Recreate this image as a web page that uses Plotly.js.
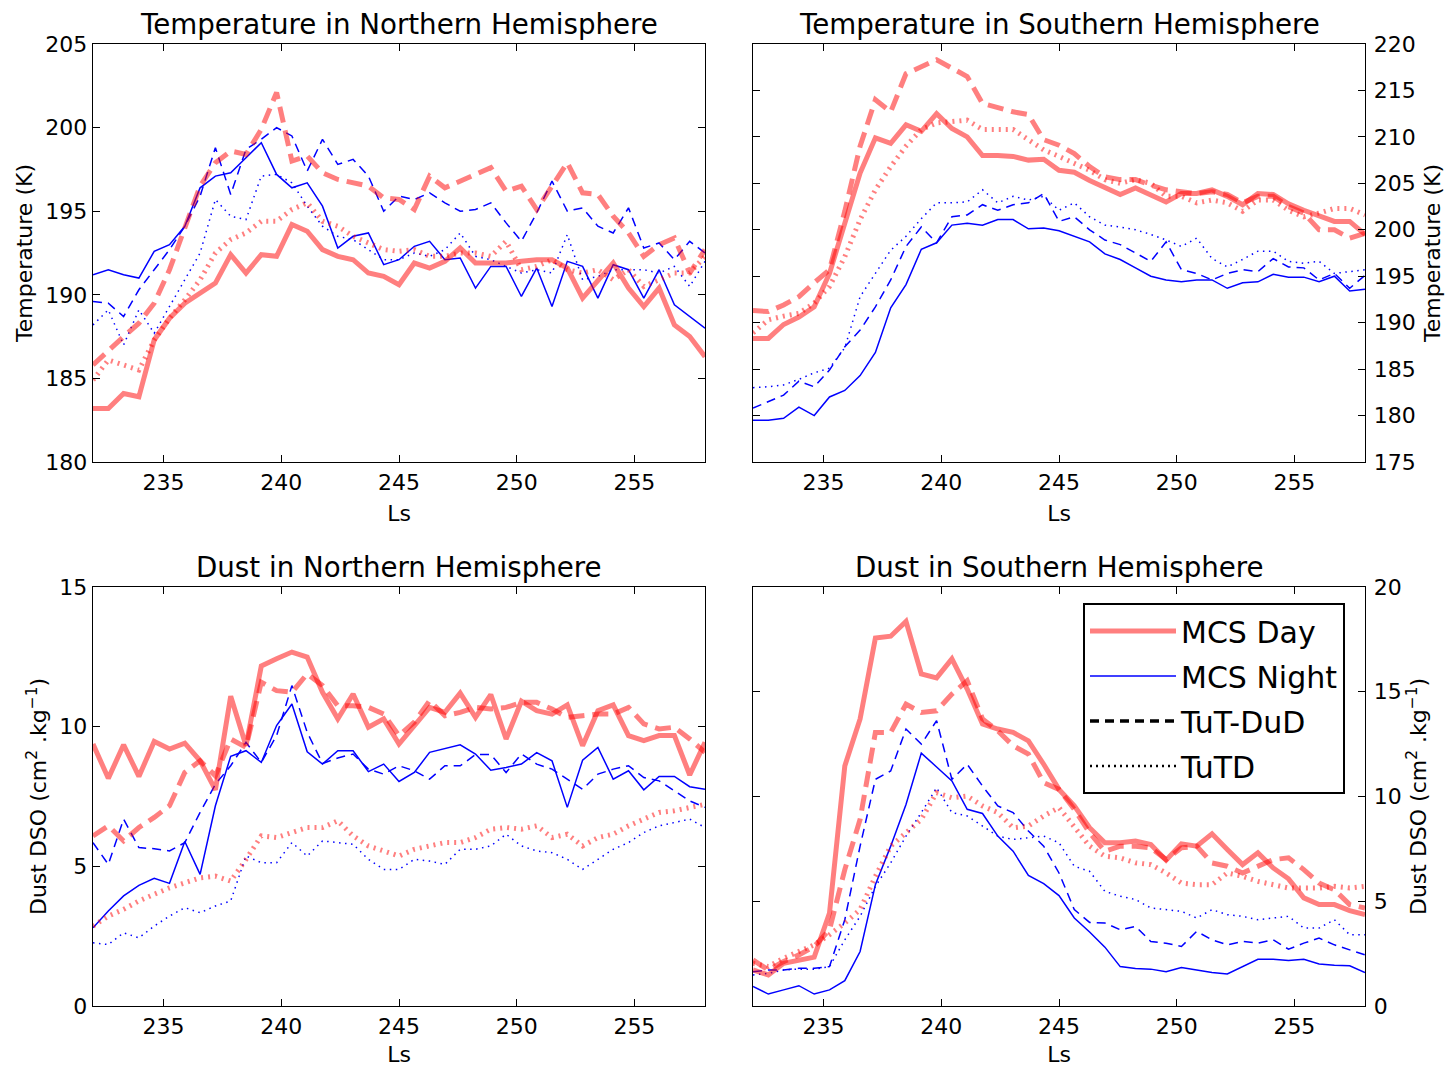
<!DOCTYPE html>
<html><head><meta charset="utf-8">
<script src="https://cdn.plot.ly/plotly-3.0.1.min.js"></script>
<style>html,body{margin:0;padding:0;background:#fff}#chart{width:1445px;height:1067px}</style>
</head><body><div id="chart"></div><script>
// Solar longitude (Ls) sample positions
const ls = [232.00,232.65,233.30,233.95,234.60,235.25,235.90,236.55,237.20,237.85,238.50,239.15,239.80,240.45,241.10,241.75,242.40,243.05,243.70,244.35,245.00,245.65,246.30,246.95,247.60,248.25,248.90,249.55,250.20,250.85,251.50,252.15,252.80,253.45,254.10,254.75,255.40,256.05,256.70,257.35,258.00];
const xTicks = [235,240,245,250,255];

// Temperature, Northern Hemisphere (K)
const tnMcsDay   = [183.2,183.2,184.1,183.9,187.3,188.6,189.5,190.1,190.7,192.4,191.3,192.4,192.3,194.2,193.8,192.7,192.3,192.1,191.3,191.1,190.6,191.9,191.6,192.0,192.8,191.9,191.9,191.9,192.0,192.1,192.1,191.6,189.8,190.9,191.9,190.4,189.3,190.4,188.2,187.5,186.3];
const tnMcsNight = [191.2,191.5,191.2,191.0,192.6,193.0,194.1,196.4,197.1,197.3,198.2,199.1,197.2,196.4,196.7,195.3,192.8,193.5,193.7,191.8,192.1,192.9,193.2,192.1,192.2,190.4,191.7,191.7,189.9,191.6,189.3,192.0,191.7,189.8,191.8,191.5,189.8,191.5,189.4,188.7,188.0];
const tnDudDay   = [185.8,186.7,187.5,188.3,189.5,191.5,194.1,196.5,197.9,198.6,198.4,199.9,202.1,198.0,198.3,197.3,196.9,196.7,196.5,195.8,195.7,195.1,197.1,196.4,196.8,197.2,197.6,196.2,196.5,195.1,196.5,197.9,196.1,196.0,194.7,193.7,192.3,193.0,193.4,191.3,192.7];
const tnDudNight = [189.6,189.5,188.7,190.3,191.5,192.7,194.1,195.9,198.8,196.0,198.7,199.3,200.0,199.5,197.4,199.3,197.8,198.1,197.1,195.0,195.9,195.7,196.1,195.5,195.0,195.1,195.5,194.3,193.2,194.9,196.8,195.0,195.2,194.1,193.7,195.2,192.8,193.1,192.1,193.2,192.5];
const tnTdDay    = [184.9,186.1,185.8,185.5,187.3,188.6,189.7,190.9,192.5,193.3,193.7,194.4,194.4,195.1,195.5,194.4,194.1,193.5,193.1,192.7,192.6,192.7,192.3,192.3,192.5,192.5,192.3,193.2,191.5,191.7,192.1,191.5,191.3,191.5,190.9,191.5,190.5,190.9,191.3,191.3,192.3];
const tnTdNight  = [188.2,189.1,187.0,189.1,187.7,189.3,190.9,192.5,195.7,194.7,194.5,197.1,197.2,196.7,195.3,194.1,193.5,193.3,192.7,192.1,192.1,192.5,192.3,192.7,193.7,192.3,192.1,191.7,191.3,191.5,191.3,193.6,190.9,191.1,191.5,191.5,191.5,191.3,191.7,190.5,192.0];

// Temperature, Southern Hemisphere (K)
const tsMcsDay   = [188.3,188.3,189.8,190.6,191.7,195.3,200.7,206.1,209.9,209.3,211.3,210.6,212.5,210.9,210.0,208.0,208.0,207.9,207.5,207.6,206.4,206.2,205.3,204.6,203.8,204.5,203.8,203.0,203.9,203.9,204.3,203.6,202.7,203.9,203.8,202.8,202.1,201.5,200.9,200.9,199.5];
const tsMcsNight = [179.5,179.5,179.7,180.9,180.0,182.0,182.7,184.3,186.8,191.6,194.1,197.9,198.6,200.5,200.7,200.5,201.1,201.1,200.1,200.2,199.9,199.3,198.7,197.4,196.8,195.9,195.0,194.6,194.4,194.6,194.6,193.7,194.3,194.4,195.2,194.9,194.9,194.4,195.0,193.4,193.6];
const tsDudDay   = [191.3,191.2,191.9,192.8,194.3,195.7,202.0,209.0,214.0,212.7,216.8,217.6,218.3,217.4,216.5,213.6,213.1,212.7,212.4,209.7,209.1,208.2,206.8,205.7,205.4,205.4,204.8,204.3,204.1,203.9,204.1,203.8,202.9,203.6,203.6,202.5,201.8,200.0,200.0,199.1,199.6];
const tsDudNight = [180.8,181.5,182.2,183.7,183.1,184.9,187.4,189.2,191.7,194.6,198.2,200.3,198.6,201.4,201.6,202.7,202.1,202.7,202.9,203.9,200.9,201.4,200.0,198.9,198.4,197.5,196.6,198.7,195.7,195.3,194.6,195.3,195.7,195.5,196.9,196.0,195.9,194.6,195.3,193.7,195.1];
const tsTdDay    = [188.9,190.3,190.7,191.0,192.1,193.9,197.1,201.1,204.3,206.8,209.0,210.8,211.5,211.6,211.8,210.8,210.8,210.8,209.7,208.6,207.9,207.2,206.4,205.4,205.0,205.4,205.0,203.6,203.6,202.9,203.2,202.9,202.0,203.2,203.2,202.1,201.4,201.8,202.3,202.3,201.6];
const tsTdNight  = [183.0,183.1,183.3,183.9,184.6,185.1,187.3,192.8,195.3,197.8,199.3,201.2,202.9,202.9,203.0,204.3,202.9,203.6,203.2,203.6,202.1,202.9,201.4,200.5,200.3,200.0,199.5,198.9,198.2,199.1,196.9,196.0,196.8,197.7,197.7,196.6,196.4,196.6,195.3,195.5,195.7];

// Dust DSO, Northern Hemisphere (cm2.kg-1)
const dnMcsDay   = [9.38,8.15,9.35,8.22,9.47,9.20,9.41,8.78,7.74,11.09,9.32,12.17,12.43,12.67,12.49,11.23,10.28,11.17,9.98,10.28,9.38,10.04,10.69,10.51,11.20,10.33,11.15,9.56,10.91,10.57,10.45,10.78,9.32,10.57,10.78,9.68,9.50,9.68,9.68,8.27,9.44];
const dnMcsNight = [2.80,3.40,3.94,4.32,4.57,4.39,5.89,4.71,7.17,8.94,9.14,8.72,10.04,10.81,9.10,8.66,9.14,9.14,8.39,8.66,8.04,8.36,9.08,9.22,9.35,9.02,8.44,8.54,8.66,9.07,8.78,7.11,8.80,9.26,8.12,8.42,7.74,8.22,8.22,7.85,7.76];
const dnDudDay   = [6.09,6.45,5.91,6.39,6.75,7.17,8.36,8.78,8.24,9.56,9.26,11.59,11.29,11.23,11.89,11.47,10.75,10.75,10.69,10.45,9.68,10.16,10.93,10.39,10.51,10.69,10.63,10.69,10.87,10.87,10.63,10.33,10.39,10.45,10.45,10.69,10.10,9.92,9.98,9.56,9.08];
const dnDudNight = [5.85,5.07,6.69,5.67,5.63,5.55,5.85,6.93,7.94,8.60,9.44,8.72,9.68,11.47,9.80,8.68,8.88,9.02,8.48,8.30,8.60,8.42,8.12,8.60,8.60,9.00,9.00,8.36,9.02,8.66,8.48,8.12,7.76,8.30,8.48,8.60,8.18,8.06,7.70,7.34,7.11];
const dnTdDay    = [2.86,3.22,3.46,3.76,4.00,4.23,4.41,4.59,4.65,4.47,5.25,6.09,6.03,6.21,6.39,6.39,6.63,6.09,5.73,5.55,5.37,5.61,5.73,5.85,5.85,6.03,6.33,6.39,6.33,6.45,6.03,6.15,5.73,6.03,6.15,6.45,6.69,6.93,6.99,7.11,7.22];
const dnTdNight  = [2.26,2.20,2.62,2.44,2.86,3.22,3.52,3.34,3.58,3.76,5.37,5.13,5.13,5.85,5.37,5.91,5.85,5.79,5.25,4.89,4.89,5.25,5.19,5.07,5.61,5.61,5.73,6.15,5.73,5.55,5.49,5.25,4.89,5.25,5.61,5.85,6.21,6.45,6.57,6.69,6.39];

// Dust DSO, Southern Hemisphere (cm2.kg-1)
const dsMcsDay   = [1.72,1.48,2.04,2.20,2.33,4.44,11.46,13.70,17.56,17.65,18.36,15.85,15.66,16.57,15.13,13.46,13.22,13.06,12.66,11.54,10.34,9.55,8.51,7.79,7.79,7.87,7.71,6.96,7.74,7.63,8.22,7.47,6.75,7.31,6.59,6.07,5.16,4.84,4.84,4.55,4.36];
const dsMcsNight = [0.93,0.57,0.77,0.97,0.57,0.77,1.21,2.60,5.79,7.63,9.62,12.07,11.41,10.74,9.39,9.19,8.11,7.39,6.23,5.84,5.27,4.20,3.53,2.81,1.88,1.79,1.76,1.64,1.84,1.72,1.60,1.53,1.88,2.23,2.23,2.17,2.23,2.01,1.95,1.92,1.60];
const dsDudDay   = [2.20,1.72,2.12,2.44,2.84,3.64,6.51,8.91,13.06,13.06,14.41,14.01,14.09,14.89,15.53,13.70,13.14,12.42,12.02,10.66,10.34,9.39,8.27,7.39,7.63,7.63,7.55,6.99,7.55,7.63,6.83,6.67,6.35,6.67,6.99,7.07,6.51,5.87,5.55,4.84,4.68];
const dsDudNight = [1.64,1.72,1.72,1.80,1.80,1.88,4.12,7.63,10.82,11.22,13.22,12.50,13.62,10.82,11.54,10.50,9.55,9.23,8.35,7.63,6.35,4.60,3.99,3.96,3.64,3.80,3.08,3.00,2.84,3.56,3.16,2.92,3.08,3.00,3.16,2.71,3.00,3.24,2.92,2.68,2.44];
const dsTdDay    = [2.04,1.88,2.28,2.60,2.92,3.40,3.96,4.60,6.19,7.63,8.27,8.91,10.18,9.94,10.02,9.55,9.23,8.51,8.59,9.07,9.47,8.59,7.63,7.15,7.07,6.83,6.75,6.35,5.87,5.79,5.79,6.35,6.19,5.95,5.79,5.63,5.63,5.63,5.71,5.63,5.71];
const dsTdNight  = [1.48,1.56,1.72,1.76,1.76,1.88,3.16,4.28,5.71,6.83,8.11,9.23,10.42,9.23,9.07,8.59,8.11,7.95,8.03,8.11,7.79,6.67,6.43,5.47,5.24,5.08,4.68,4.60,4.52,4.20,4.60,4.36,4.28,4.12,4.20,4.28,3.72,3.72,4.12,3.40,3.40];

const panelTitles = ['Temperature in Northern Hemisphere','Temperature in Southern Hemisphere','Dust in Northern Hemisphere','Dust in Southern Hemisphere'];
const legendNames = ['MCS Day','MCS Night','TuT-DuD','TuTD'];
const tempLabel = 'Temperature (K)';
const dustLabel = 'Dust DSO (cm<sup>2</sup> .kg<sup>\u22121</sup>)';

const FONT = 'DejaVu Sans, Bitstream Vera Sans, sans-serif';
const RED = 'rgba(255,0,0,0.5)';
const BLUE = '#0000ff';
const ST = {
  day:      {color: RED, width: 5, dash: 'solid'},
  dudDay:   {color: RED, width: 5, dash: '16px,8px'},
  tdDay:    {color: RED, width: 5, dash: '2px,5px'},
  night:    {color: BLUE, width: 1.5, dash: 'solid'},
  dudNight: {color: BLUE, width: 1.5, dash: '9px,6px'},
  tdNight:  {color: BLUE, width: 1.5, dash: '1.5px,4.5px'}
};
function ln(y, st, k) {
  const s = k === 1 ? '' : String(k);
  return {type:'scatter', mode:'lines', x: ls, y: y, xaxis:'x'+s, yaxis:'y'+s,
          line: Object.assign({}, st), showlegend:false, hoverinfo:'skip'};
}
const panels = [
  [tnMcsDay, tnDudDay, tnTdDay, tnMcsNight, tnDudNight, tnTdNight],
  [tsMcsDay, tsDudDay, tsTdDay, tsMcsNight, tsDudNight, tsTdNight],
  [dnMcsDay, dnDudDay, dnTdDay, dnMcsNight, dnDudNight, dnTdNight],
  [dsMcsDay, dsDudDay, dsTdDay, dsMcsNight, dsDudNight, dsTdNight]
];
const stOrder = [ST.day, ST.dudDay, ST.tdDay, ST.night, ST.dudNight, ST.tdNight];
const traces = [];
panels.forEach((p, i) => {
  [3,4,5,0,1,2].forEach(j => traces.push(ln(p[j], stOrder[j], i+1)));
});
// legend entries
const legStyles = [
  {color: RED, width: 5},
  {color: BLUE, width: 1.5},
  {color: 'black', width: 3.5, dash: '9px,6px'},
  {color: 'black', width: 2.5, dash: '2px,4px'}
];
legendNames.forEach((n, i) => {
  traces.push({type:'scatter', mode:'lines', x:[null], y:[null], xaxis:'x4', yaxis:'y4',
    name: n, line: legStyles[i], showlegend: true, legendgroup: 'g'+i, hoverinfo:'skip'});
});

const W = 1445, H = 1067;
const colX = [[93, 705], [753, 1365]];
const rowY = [[44, 462], [587, 1006]];
function xd(c) { return [colX[c][0]/W, colX[c][1]/W]; }
function yd(r) { return [1 - rowY[r][1]/H, 1 - rowY[r][0]/H]; }
const TICKF = {family: FONT, size: 22, color: 'black'};

function xAxis(c, r, anchor) {
  return {domain: xd(c), anchor: anchor, range: [232, 258], tickvals: xTicks, ticks: 'inside', ticklen: 7,
    tickwidth: 1, tickcolor: 'black', showline: true, linecolor: 'black', linewidth: 1.3,
    mirror: 'allticks', showgrid: false, zeroline: false, fixedrange: true, side: 'bottom',
    tickfont: TICKF, ticklabelstandoff: 0,
    title: {text: 'Ls', font: TICKF, standoff: 12},
    automargin: false};
}
function yAxis(c, r, anchor, range, dtick, side, label) {
  return {domain: yd(r), anchor: anchor, range: range, dtick: dtick, tick0: 0, ticks: 'inside', ticklen: 7,
    tickwidth: 1, tickcolor: 'black', showline: true, linecolor: 'black', linewidth: 1.3,
    mirror: 'allticks', showgrid: false, zeroline: false, side: side, fixedrange: true,
    tickfont: TICKF, ticklabelstandoff: side === 'right' ? 3 : 0,
    title: {text: label, font: TICKF, standoff: side === 'right' ? 10 : 6},
    automargin: false};
}

const annotations = panelTitles.map((t, i) => {
  const c = i % 2, r = Math.floor(i / 2);
  return {xref: 'paper', yref: 'paper', x: (xd(c)[0] + xd(c)[1]) / 2, y: yd(r)[1],
    xanchor: 'center', yanchor: 'bottom', yshift: 1, showarrow: false, text: t,
    font: {family: FONT, size: 27.7, color: 'black'}};
});

const layout = {
  width: W, height: H, margin: {l: 0, r: 0, t: 0, b: 0},
  paper_bgcolor: 'white', plot_bgcolor: 'white',
  font: {family: FONT, color: 'black'},
  xaxis:  xAxis(0, 0, 'y'),  yaxis:  yAxis(0, 0, 'x',  [180, 205], 5, 'left', tempLabel),
  xaxis2: xAxis(1, 0, 'y2'), yaxis2: yAxis(1, 0, 'x2', [175, 220], 5, 'right', tempLabel),
  xaxis3: xAxis(0, 1, 'y3'), yaxis3: yAxis(0, 1, 'x3', [0, 15], 5, 'left', dustLabel),
  xaxis4: xAxis(1, 1, 'y4'), yaxis4: yAxis(1, 1, 'x4', [0, 20], 5, 'right', dustLabel),
  annotations: annotations,
  showlegend: true,
  legend: {x: 1083/W, y: 1 - 603/H, xanchor: 'left', yanchor: 'top',
    bgcolor: 'white', bordercolor: 'black', borderwidth: 2,
    font: {family: FONT, size: 30, color: 'black'}, itemwidth: 86,
    traceorder: 'grouped', tracegroupgap: 3}
};

Plotly.newPlot('chart', traces, layout, {displayModeBar: false, staticPlot: true});
</script></body></html>
